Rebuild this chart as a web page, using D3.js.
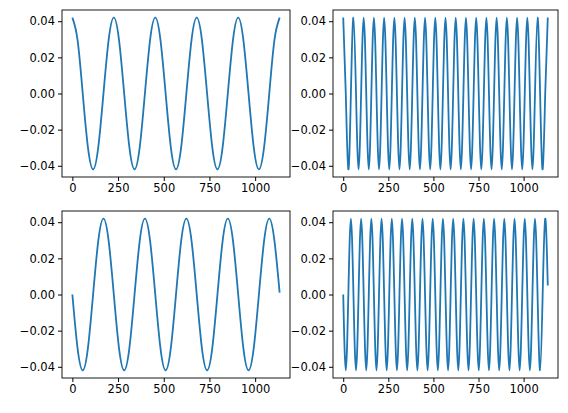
<!DOCTYPE html>
<html><head><meta charset="utf-8">
<script src="https://cdn.jsdelivr.net/npm/d3@7"></script>
<style>body{margin:0;background:#fff}svg{font-family:"DejaVu Sans",sans-serif}</style>
</head><body>
<svg id="c" width="568" height="413"></svg>
<script>
const xTicks=[0,250,500,750,1000];
const yTicks=[-0.04,-0.02,0.00,0.02,0.04];
const stepSlow=141.75, stepFast=14.175;
const topLeft=[0.042,0.0297,0,-0.0297,-0.042,-0.0297,0,0.0297,0.042,0.0297,0,-0.0297,-0.042,-0.0297,0,0.0297,0.042,0.0297,0,-0.0297,-0.042,-0.0297,0,0.0297,0.042,0.0297,0,-0.0297,-0.042,-0.0297,0,0.0297,0.042,0.0297,0,-0.0297,-0.042,-0.0297,0,0.0297,0.042].map(v=>v);
const bottomLeft=[0,-0.0297,-0.042,-0.0297,0,0.0297,0.042,0.0297,0,-0.0297,-0.042,-0.0297,0,0.0297,0.042,0.0297,0,-0.0297,-0.042,-0.0297,0,0.0297,0.042,0.0297,0,-0.0297,-0.042,-0.0297,0,0.0297,0.042,0.0297,0,-0.0297,-0.042,-0.0297,0,0.0297,0.042,0.0297,0.001];
const topRight=[0.042,0,-0.042,0,0.042,0,-0.042,0,0.042,0,-0.042,0,0.042,0,-0.042,0,0.042,0,-0.042,0,0.042,0,-0.042,0,0.042,0,-0.042,0,0.042,0,-0.042,0,0.042,0,-0.042,0,0.042,0,-0.042,0,0.042,0,-0.042,0,0.042,0,-0.042,0,0.042,0,-0.042,0,0.042,0,-0.042,0,0.042,0,-0.042,0,0.042,0,-0.042,0,0.042,0,-0.042,0,0.042,0,-0.042,0,0.042,0,-0.042,0,0.042,0,-0.042,0,0.042];
const bottomRight=[0,-0.042,0,0.042,0,-0.042,0,0.042,0,-0.042,0,0.042,0,-0.042,0,0.042,0,-0.042,0,0.042,0,-0.042,0,0.042,0,-0.042,0,0.042,0,-0.042,0,0.042,0,-0.042,0,0.042,0,-0.042,0,0.042,0,-0.042,0,0.042,0,-0.042,0,0.042,0,-0.042,0,0.042,0,-0.042,0,0.042,0,-0.042,0,0.042,0,-0.042,0,0.042,0,-0.042,0,0.042,0,-0.042,0,0.042,0,-0.042,0,0.042,0,-0.042,0,0.042,0.005];
const svg=d3.select("#c");
const panels=[
 {data:topLeft,step:stepSlow/5*5/5,x0:62,x1:290,y0:10,y1:177},
 {data:topRight,step:stepFast,x0:333,x1:558,y0:10,y1:177},
 {data:bottomLeft,step:stepSlow/5,x0:62,x1:290,y0:211,y1:378},
 {data:bottomRight,step:stepFast,x0:333,x1:558,y0:211,y1:378}];
panels[0].step=28.35;panels[2].step=28.35;
panels.forEach(p=>{
 const x=d3.scaleLinear().domain([-56.7,1190.7]).range([p.x0,p.x1]);
 const y=d3.scaleLinear().domain([-0.0462,0.0462]).range([p.y1,p.y0]);
 const g=svg.append("g");
 g.append("path").datum(p.data).attr("fill","none").attr("stroke","#1f77b4").attr("stroke-width",1.8)
  .attr("d",d3.line().x((d,i)=>x(i*p.step)).y(d=>y(d)).curve(d3.curveNatural));
 const ax=g.append("g").attr("transform",`translate(0,${p.y1})`).call(d3.axisBottom(x).tickValues(xTicks).tickSize(4).tickPadding(3).tickFormat(d3.format("d")));
 const ay=g.append("g").attr("transform",`translate(${p.x0},0)`).call(d3.axisLeft(y).tickValues(yTicks).tickSize(4).tickPadding(3).tickFormat(d=>d3.format(".2f")(d).replace("-","\u2212")));
 [ax,ay].forEach(a=>{a.select(".domain").remove();a.selectAll("text").attr("font-size",11.5).attr("fill","#000").attr("font-family","DejaVu Sans");a.selectAll("line").attr("stroke","#000");});
 g.append("rect").attr("x",p.x0).attr("y",p.y0).attr("width",p.x1-p.x0).attr("height",p.y1-p.y0).attr("fill","none").attr("stroke","#000").attr("stroke-width",0.9);
});
</script></body></html>
